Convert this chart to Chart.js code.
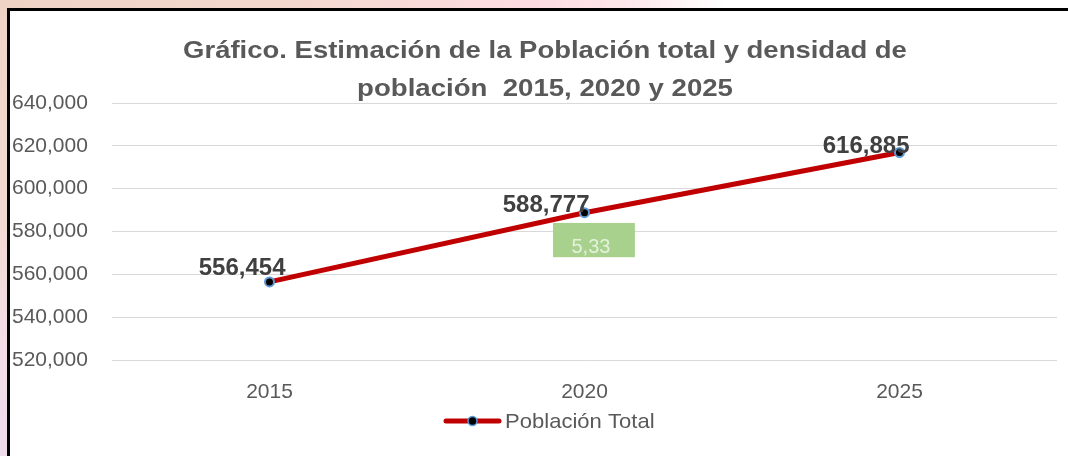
<!DOCTYPE html>
<html>
<head>
<meta charset="utf-8">
<script src="https://cdn.jsdelivr.net/npm/chart.js@4/dist/chart.umd.min.js"></script>
<style>
  html, body { margin: 0; padding: 0; }
  body { width: 1068px; height: 456px; position: relative; overflow: hidden;
         background: linear-gradient(to bottom, #efd4c6 0%, #f2d8d0 45%, #f3dde6 75%, #efdcec 100%); }
  #topstrip { position: absolute; left: 0; top: 0; width: 1068px; height: 8px;
         background: linear-gradient(to right, #efd3c5 0%, #f3d8cd 25%, #f8dada 40%, #fddbe3 50%, #fde6ea 58%, #ffffff 68%, #ffffff 100%); }
  #box { position: absolute; left: 7px; top: 8px; width: 1061px; height: 448px; background: #fff;
         border-top: 3px solid #000; border-left: 3px solid #000; box-sizing: border-box; }
  #wrap { position: absolute; left: 10px; top: 11px; width: 1058px; height: 445px; }
</style>
</head>
<body>
<div id="topstrip"></div>
<div id="box"></div>
<div id="wrap"><canvas id="c" width="1058" height="445"></canvas></div>
<script>
// ---- Data ----
const categories = ['2015', '2020', '2025'];
const poblacionTotal = [556454, 588777, 616885];
const seriesName = 'Población Total';
const titleLines = ['Gráfico. Estimación de la Población total y densidad de', 'población  2015, 2020 y 2025'];
const yTickMin = 520000;
const yTickMax = 640000;
const yTickStep = 20000;
const densityLabel = '5,33';

// ---- Style (label placement relative to each point) ----
const labelDx = [16, 5, 10];
const labelDy = [-14, -7, -6];

const FONT = '"Liberation Sans", Arial, sans-serif';
const fmt = v => v.toLocaleString('en-US');

function stretchedText(ctx, text, x, y, sx, align) {
  ctx.save();
  ctx.translate(x, y);
  ctx.scale(sx, 1);
  ctx.textAlign = align;
  ctx.fillText(text, 0, 0);
  ctx.restore();
}

const decorPlugin = {
  id: 'decor',
  afterDatasetsDraw(chart) {
    const ctx = chart.ctx;
    const xs = chart.scales.x, ys = chart.scales.y;
    const meta = chart.getDatasetMeta(0);

    // density box near 2020
    const bx0 = xs.getPixelForValue(0.9), bx1 = xs.getPixelForValue(1.16);
    const by0 = ys.getPixelForValue(584000), by1 = ys.getPixelForValue(568000);
    ctx.save();
    ctx.fillStyle = '#a9d18e';
    ctx.fillRect(bx0, by0, bx1 - bx0, by1 - by0);
    ctx.fillStyle = '#e4f1da';
    ctx.font = '20px ' + FONT;
    ctx.textAlign = 'center';
    ctx.textBaseline = 'middle';
    ctx.fillText(densityLabel, (bx0 + bx1) / 2 - 3, by1 - 10);
    ctx.restore();

    // data labels
    ctx.save();
    ctx.font = 'bold 24px ' + FONT;
    ctx.fillStyle = '#404040';
    ctx.textAlign = 'right';
    ctx.textBaseline = 'middle';
    meta.data.forEach((pt, i) => {
      ctx.fillText(fmt(poblacionTotal[i]), pt.x + labelDx[i], pt.y + labelDy[i]);
    });
    ctx.restore();
  },
  afterDraw(chart) {
    const ctx = chart.ctx;
    // title
    ctx.save();
    ctx.font = 'bold 24px ' + FONT;
    ctx.fillStyle = '#595959';
    ctx.textBaseline = 'middle';
    stretchedText(ctx, titleLines[0], 535, 40, 1.145, 'center');
    stretchedText(ctx, titleLines[1], 535, 78, 1.15, 'center');
    ctx.restore();

    // legend
    const ly = 410;
    ctx.save();
    ctx.strokeStyle = '#c00000';
    ctx.lineWidth = 5;
    ctx.lineCap = 'round';
    ctx.beginPath();
    ctx.moveTo(436, ly); ctx.lineTo(489, ly);
    ctx.stroke();
    ctx.beginPath();
    ctx.arc(462.5, ly, 4.5, 0, Math.PI * 2);
    ctx.fillStyle = '#000';
    ctx.fill();
    ctx.lineWidth = 1.5;
    ctx.strokeStyle = '#5b9bd5';
    ctx.stroke();
    ctx.font = '21px ' + FONT;
    ctx.fillStyle = '#595959';
    ctx.textBaseline = 'middle';
    stretchedText(ctx, seriesName, 495, ly + 1, 1.05, 'left');
    ctx.restore();
  }
};

new Chart(document.getElementById('c'), {
  type: 'line',
  data: {
    labels: categories,
    datasets: [{
      label: seriesName,
      data: poblacionTotal,
      borderColor: '#c00000',
      borderWidth: 5,
      pointRadius: 4.5,
      pointBackgroundColor: '#000',
      pointBorderColor: '#5b9bd5',
      pointBorderWidth: 2,
      tension: 0,
      clip: false
    }]
  },
  options: {
    responsive: false,
    animation: false,
    devicePixelRatio: 1,
    layout: { padding: { left: 2, right: 11, top: 92, bottom: 0 } },
    plugins: { legend: { display: false }, title: { display: false }, tooltip: { enabled: false } },
    scales: {
      x: {
        offset: true,
        grid: { display: false, drawTicks: false },
        border: { display: false },
        ticks: { color: '#595959', font: { family: FONT, size: 21 }, padding: 20 },
        afterFit(s) { s.height = 96; }
      },
      y: {
        min: yTickMin, max: yTickMax,
        grid: { color: '#d9d9d9', lineWidth: 1, drawTicks: false },
        border: { display: false },
        ticks: {
          stepSize: yTickStep,
          color: '#595959',
          font: { family: FONT, size: 21 },
          crossAlign: 'far',
          padding: 0,
          callback: v => fmt(v)
        },
        afterFit(s) { s.width = 100; }
      }
    }
  },
  plugins: [decorPlugin]
});
</script>
</body>
</html>
